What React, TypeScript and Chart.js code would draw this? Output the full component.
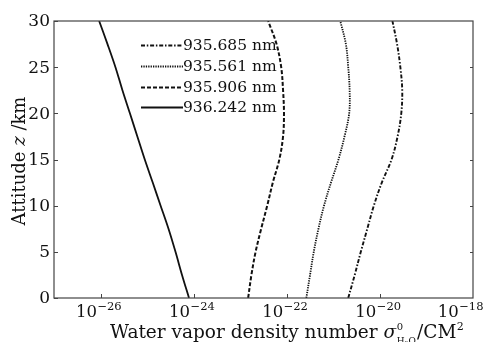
import React, { useEffect, useRef } from 'react';
import { Chart, registerables } from 'chart.js';

Chart.register(...registerables);

// Altitude (km) at which each curve was read
const altitudeKm = [0, 2.5, 5, 7.5, 10, 12.5, 15, 17.5, 20, 22.5, 25, 27.5, 30];

// Water vapor absorption cross section (cm^2) per wavelength
const sigma935685 = [2.09e-21, 2.88e-21, 3.89e-21, 5.37e-21, 7.41e-21, 1.1e-20, 1.78e-20, 2.4e-20, 2.88e-20, 3.02e-20, 2.75e-20, 2.34e-20, 1.86e-20];
const sigma935561 = [2.63e-22, 3.16e-22, 3.8e-22, 4.79e-22, 6.31e-22, 8.91e-22, 1.29e-21, 1.74e-21, 2.19e-21, 2.24e-21, 2.09e-21, 1.86e-21, 1.41e-21];
const sigma935906 = [1.48e-23, 1.74e-23, 2.14e-23, 2.82e-23, 3.8e-23, 5.01e-23, 6.92e-23, 8.32e-23, 8.71e-23, 8.32e-23, 7.59e-23, 6.03e-23, 3.98e-23];
const sigma936242 = [7.94e-25, 5.62e-25, 4.07e-25, 2.88e-25, 1.95e-25, 1.32e-25, 8.91e-26, 6.17e-26, 4.27e-26, 2.95e-26, 2.09e-26, 1.41e-26, 9.33e-27];

const seriesLabels = ['935.685 nm', '935.561 nm', '935.906 nm', '936.242 nm'];
const xTickValues = [1e-26, 1e-24, 1e-22, 1e-20, 1e-18];
const yTickValues = [0, 5, 10, 15, 20, 25, 30];
const yRightTickValues = [5, 10, 15, 20, 25];

const FONT = '"DejaVu Serif", "Liberation Serif", serif';
const INK = '#111';

const toPoints = (xs: number[]) => xs.map((v, i) => ({ x: v, y: altitudeKm[i] }));

const decorPlugin = {
  id: 'decor',
  afterDraw(chart: any) {
    const ctx = chart.ctx as CanvasRenderingContext2D;
    const a = chart.chartArea;
    const xs = chart.scales.x;
    const ys = chart.scales.y;
    ctx.save();
    // frame
    ctx.strokeStyle = '#444';
    ctx.lineWidth = 1.2;
    ctx.strokeRect(a.left, a.top, a.right - a.left, a.bottom - a.top);
    // inward ticks
    ctx.beginPath();
    xTickValues.forEach((v) => {
      const px = Math.round(xs.getPixelForValue(v)) + 0.5;
      if (px < a.right - 2) {
        ctx.moveTo(px, a.bottom);
        ctx.lineTo(px, a.bottom - 4);
      }
    });
    yTickValues.forEach((v) => {
      const py = Math.round(ys.getPixelForValue(v)) + 0.5;
      ctx.moveTo(a.left, py);
      ctx.lineTo(a.left + 4, py);
    });
    yRightTickValues.forEach((v) => {
      const py = Math.round(ys.getPixelForValue(v)) + 0.5;
      ctx.moveTo(a.right, py);
      ctx.lineTo(a.right - 3, py);
    });
    ctx.lineWidth = 1;
    ctx.stroke();

    ctx.fillStyle = INK;
    // y tick labels
    ctx.font = `17px ${FONT}`;
    ctx.textAlign = 'right';
    ctx.textBaseline = 'middle';
    yTickValues.forEach((v) => {
      ctx.fillText(String(v), a.left - 4, ys.getPixelForValue(v) + 1);
    });
    // x tick labels 10^n
    ctx.textBaseline = 'alphabetic';
    ctx.textAlign = 'left';
    const W = chart.width;
    xTickValues.forEach((v) => {
      const e = Math.round(Math.log10(v));
      const base = '10';
      const sup = (e < 0 ? '\u2212' : '') + String(Math.abs(e));
      ctx.font = `16.5px ${FONT}`;
      const wb = ctx.measureText(base).width;
      ctx.font = `11.5px ${FONT}`;
      const ws = ctx.measureText(sup).width;
      const px = xs.getPixelForValue(v);
      let x0 = px - (wb + ws) / 2 - 2;
      if (x0 + wb + ws > W - 8) x0 = W - 8 - wb - ws;
      ctx.font = `16.5px ${FONT}`;
      ctx.fillText(base, x0, 317);
      ctx.font = `11.5px ${FONT}`;
      ctx.fillText(sup, x0 + wb + 0.5, 310);
    });

    // x axis title
    let x = 110;
    const bl = 338;
    ctx.font = `18.5px ${FONT}`;
    const t1 = 'Water vapor density number ';
    ctx.fillText(t1, x, bl);
    x += ctx.measureText(t1).width;
    ctx.font = `italic 18.5px ${FONT}`;
    ctx.fillText('σ', x, bl);
    x += ctx.measureText('σ').width + 0.5;
    ctx.font = `10px ${FONT}`;
    ctx.fillText('0', x, bl - 8);
    const supEnd = x + ctx.measureText('0').width;
    let sx = x;
    ctx.font = `9px ${FONT}`;
    ctx.fillText('H', sx, bl + 6);
    sx += ctx.measureText('H').width;
    ctx.font = `6.5px ${FONT}`;
    ctx.fillText('2', sx, bl + 8);
    sx += ctx.measureText('2').width;
    ctx.font = `9px ${FONT}`;
    ctx.fillText('O', sx, bl + 6);
    sx += ctx.measureText('O').width;
    x = Math.max(sx, supEnd) + 1;
    ctx.font = `18.5px ${FONT}`;
    ctx.fillText('/CM', x, bl);
    x += ctx.measureText('/CM').width;
    ctx.font = `11px ${FONT}`;
    ctx.fillText('2', x + 0.5, bl - 8);

    // y axis title (rotated)
    ctx.save();
    ctx.translate(25, 161);
    ctx.rotate(-Math.PI / 2);
    const p1 = 'Attitude ';
    const p2 = 'z';
    const p3 = ' /km';
    ctx.font = `18px ${FONT}`;
    const w1 = ctx.measureText(p1).width;
    const w3 = ctx.measureText(p3).width;
    ctx.font = `italic 18px ${FONT}`;
    const w2 = ctx.measureText(p2).width;
    let ty = -(w1 + w2 + w3) / 2;
    ctx.font = `18px ${FONT}`;
    ctx.fillText(p1, ty, 0);
    ty += w1;
    ctx.font = `italic 18px ${FONT}`;
    ctx.fillText(p2, ty, 0);
    ty += w2;
    ctx.font = `18px ${FONT}`;
    ctx.fillText(p3, ty, 0);
    ctx.restore();

    // legend inside the plot
    const rows = [45, 66, 87, 107];
    chart.data.datasets.forEach((ds: any, i: number) => {
      const y = rows[i];
      ctx.beginPath();
      ctx.setLineDash(ds.borderDash || []);
      ctx.lineWidth = ds.borderWidth;
      ctx.strokeStyle = INK;
      ctx.moveTo(141, y + 0.5);
      ctx.lineTo(183, y + 0.5);
      ctx.stroke();
      ctx.setLineDash([]);
      ctx.font = `15.5px ${FONT}`;
      ctx.textAlign = 'left';
      ctx.textBaseline = 'middle';
      ctx.fillStyle = INK;
      ctx.fillText(seriesLabels[i], 183, y + 1);
    });
    ctx.restore();
  },
};

export default function App() {
  const ref = useRef<HTMLCanvasElement | null>(null);
  useEffect(() => {
    if (!ref.current) return;
    const common = { showLine: true, pointRadius: 0, borderColor: INK, backgroundColor: INK, fill: false, tension: 0.35 };
    const chart = new Chart(ref.current, {
      type: 'scatter',
      data: {
        datasets: [
          { ...common, label: seriesLabels[0], data: toPoints(sigma935685), borderWidth: 1.9, borderDash: [4, 1.8, 1.5, 1.8] },
          { ...common, label: seriesLabels[1], data: toPoints(sigma935561), borderWidth: 1.8, borderDash: [1.3, 1.1] },
          { ...common, label: seriesLabels[2], data: toPoints(sigma935906), borderWidth: 2, borderDash: [4, 2] },
          { ...common, label: seriesLabels[3], data: toPoints(sigma936242), borderWidth: 1.8, borderDash: [] },
        ],
      } as any,
      options: {
        responsive: false,
        maintainAspectRatio: false,
        animation: false,
        layout: { padding: { top: 21, right: 18, left: 0, bottom: 0 } },
        plugins: { legend: { display: false }, tooltip: { enabled: false } },
        scales: {
          x: {
            type: 'logarithmic',
            min: 1e-27,
            max: 1e-18,
            grid: { display: false },
            border: { display: false },
            ticks: { display: false },
            afterBuildTicks: (s: any) => {
              s.ticks = xTickValues.map((v) => ({ value: v }));
            },
            afterFit: (s: any) => {
              s.height = 44;
            },
          },
          y: {
            type: 'linear',
            min: 0,
            max: 30,
            grid: { display: false },
            border: { display: false },
            ticks: { display: false },
            afterFit: (s: any) => {
              s.width = 54;
            },
          },
        },
      } as any,
      plugins: [decorPlugin],
    });
    return () => chart.destroy();
  }, []);
  return (
    <div style={{ position: 'absolute', left: 0, top: 0, width: 491, height: 342, background: '#fff' }}>
      <canvas ref={ref} width={491} height={342} style={{ display: 'block', width: 491, height: 342 }} />
    </div>
  );
}
